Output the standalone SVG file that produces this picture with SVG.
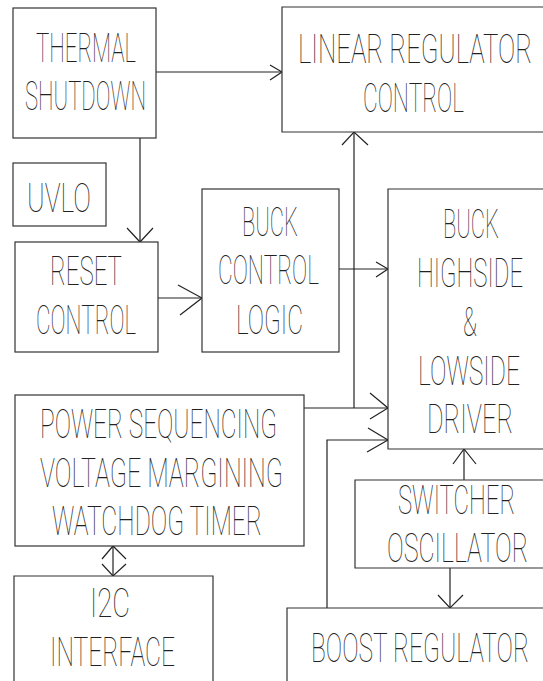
<svg xmlns="http://www.w3.org/2000/svg" width="543" height="681" viewBox="0 0 543 681">
<style>
.box{fill:#fff;stroke:#333;stroke-width:1.2}
.ln{fill:none;stroke:#222;stroke-width:1.2}
.t{font-family:Roboto,"Liberation Sans",sans-serif;font-weight:100;font-size:40px;fill:#222}
</style>
<rect width="543" height="681" fill="#fff"/>
<g id="connectors">
<line class="ln" x1="156" y1="72" x2="282" y2="72"/>
<polyline class="ln" points="270,65 282,72 270,80"/>
<line class="ln" x1="140" y1="138" x2="140" y2="242"/>
<polyline class="ln" points="127,228 140,242 153,228"/>
<line class="ln" x1="158" y1="298" x2="202" y2="298"/>
<polyline class="ln" points="178,285 202,298 180,315"/>
<line class="ln" x1="339" y1="269" x2="388" y2="269"/>
<polyline class="ln" points="376,262 388,269 376,277"/>
<line class="ln" x1="354" y1="408" x2="354" y2="132"/>
<polyline class="ln" points="342,145 354,132 368,145"/>
<line class="ln" x1="304" y1="408" x2="388" y2="408"/>
<polyline class="ln" points="370,393 388,408 370,419"/>
<polyline class="ln" points="327,608 327,440 388,440"/>
<polyline class="ln" points="368,428 388,440 367,452"/>
<line class="ln" x1="464" y1="480" x2="464" y2="449"/>
<polyline class="ln" points="453,464 464,449 476,464"/>
<line class="ln" x1="450" y1="568" x2="450" y2="608"/>
<polyline class="ln" points="438,595 450,608 463,595"/>
<line class="ln" x1="113" y1="546" x2="113" y2="576"/>
<polyline class="ln" points="102,559 113,546 126,559"/>
<polyline class="ln" points="102,564 113,576 126,564"/>
</g>
<g id="thermal-shutdown">
<rect class="box" x="13" y="8" width="143" height="130"/>
<text class="t" transform="translate(36,62) scale(0.6,1)" textLength="166.7" lengthAdjust="spacingAndGlyphs">THERMAL</text>
<text class="t" transform="translate(25,110) scale(0.6,1)" textLength="201.7" lengthAdjust="spacingAndGlyphs">SHUTDOWN</text>
</g>
<g id="linear-regulator-control">
<path class="box" d="M543,7 H282 V132 H543"/>
<text class="t" transform="translate(298,63) scale(0.6,1)" textLength="390" lengthAdjust="spacingAndGlyphs">LINEAR REGULATOR</text>
<text class="t" transform="translate(363,112) scale(0.6,1)" textLength="168.3" lengthAdjust="spacingAndGlyphs">CONTROL</text>
</g>
<g id="uvlo">
<rect class="box" x="13" y="163" width="93" height="63"/>
<text class="t" transform="translate(27,212) scale(0.6,1)" textLength="106.7" lengthAdjust="spacingAndGlyphs">UVLO</text>
</g>
<g id="reset-control">
<rect class="box" x="15" y="242" width="143" height="110"/>
<text class="t" transform="translate(50,285) scale(0.6,1)" textLength="120" lengthAdjust="spacingAndGlyphs">RESET</text>
<text class="t" transform="translate(36,334) scale(0.6,1)" textLength="166.7" lengthAdjust="spacingAndGlyphs">CONTROL</text>
</g>
<g id="buck-control-logic">
<rect class="box" x="202" y="189" width="137" height="163"/>
<text class="t" transform="translate(242,236) scale(0.6,1)" textLength="93.3" lengthAdjust="spacingAndGlyphs">BUCK</text>
<text class="t" transform="translate(218,284) scale(0.6,1)" textLength="168.3" lengthAdjust="spacingAndGlyphs">CONTROL</text>
<text class="t" transform="translate(236,334) scale(0.6,1)" textLength="111.7" lengthAdjust="spacingAndGlyphs">LOGIC</text>
</g>
<g id="buck-driver">
<path class="box" d="M543,189 H388 V449 H543"/>
<text class="t" transform="translate(443,238) scale(0.6,1)" textLength="93.3" lengthAdjust="spacingAndGlyphs">BUCK</text>
<text class="t" transform="translate(417,287) scale(0.6,1)" textLength="176.7" lengthAdjust="spacingAndGlyphs">HIGHSIDE</text>
<text class="t" transform="translate(463,336) scale(0.6,1)" textLength="23.3" lengthAdjust="spacingAndGlyphs">&amp;</text>
<text class="t" transform="translate(418,385) scale(0.6,1)" textLength="170" lengthAdjust="spacingAndGlyphs">LOWSIDE</text>
<text class="t" transform="translate(427,433) scale(0.6,1)" textLength="143.3" lengthAdjust="spacingAndGlyphs">DRIVER</text>
</g>
<g id="power-sequencing">
<rect class="box" x="15" y="395" width="289" height="151"/>
<text class="t" transform="translate(40,438) scale(0.6,1)" textLength="395" lengthAdjust="spacingAndGlyphs">POWER SEQUENCING</text>
<text class="t" transform="translate(40,487) scale(0.6,1)" textLength="405" lengthAdjust="spacingAndGlyphs">VOLTAGE MARGINING</text>
<text class="t" transform="translate(52,535) scale(0.6,1)" textLength="350" lengthAdjust="spacingAndGlyphs">WATCHDOG TIMER</text>
</g>
<g id="i2c-interface">
<path class="box" d="M14,681 V576 H213 V681"/>
<text class="t" transform="translate(90,617) scale(0.6,1)" textLength="66.7" lengthAdjust="spacingAndGlyphs">I2C</text>
<text class="t" transform="translate(50,666) scale(0.6,1)" textLength="208.3" lengthAdjust="spacingAndGlyphs">INTERFACE</text>
</g>
<g id="switcher-oscillator">
<path class="box" d="M543,480 H355 V568 H543"/>
<text class="t" transform="translate(398,514) scale(0.6,1)" textLength="195" lengthAdjust="spacingAndGlyphs">SWITCHER</text>
<text class="t" transform="translate(387,562) scale(0.6,1)" textLength="235" lengthAdjust="spacingAndGlyphs">OSCILLATOR</text>
</g>
<g id="boost-regulator">
<path class="box" d="M287,681 V608 H543"/>
<text class="t" transform="translate(311,662) scale(0.6,1)" textLength="363.3" lengthAdjust="spacingAndGlyphs">BOOST REGULATOR</text>
</g>
</svg>
